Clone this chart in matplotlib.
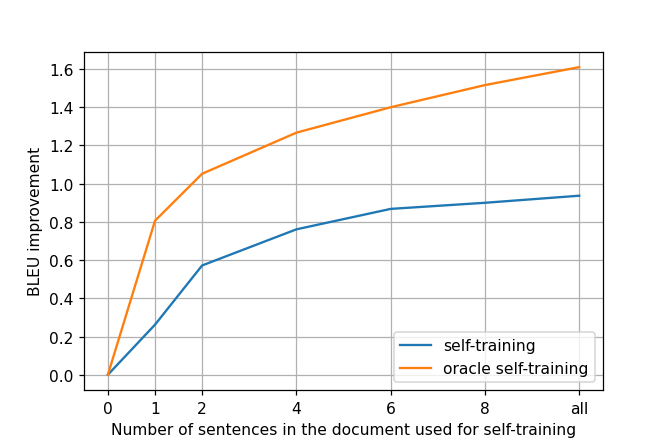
import matplotlib
matplotlib.use("Agg")
import matplotlib.pyplot as plt

x_pos = [0, 1, 2, 4, 6, 8, 10]
x_labels = ["0", "1", "2", "4", "6", "8", "all"]
self_training = [0.0, 0.262, 0.572, 0.761, 0.868, 0.900, 0.937]
oracle_self_training = [0.0, 0.806, 1.052, 1.267, 1.400, 1.516, 1.610]

dpi = 111.5
fig, ax = plt.subplots(figsize=(669 / dpi, 447 / dpi), dpi=dpi)
fig.subplots_adjust(left=0.126, right=0.901, top=0.882, bottom=0.125)
ax.plot(x_pos, self_training, label="self-training")
ax.plot(x_pos, oracle_self_training, label="oracle self-training")
ax.set_xticks(x_pos)
ax.set_xticklabels(x_labels)
ax.set_yticks([0.0, 0.2, 0.4, 0.6, 0.8, 1.0, 1.2, 1.4, 1.6])
ax.grid(True)
ax.set_xlabel("Number of sentences in the document used for self-training")
ax.set_ylabel("BLEU improvement")
ax.legend(loc="lower right")
fig.savefig("out.png", dpi=dpi)
